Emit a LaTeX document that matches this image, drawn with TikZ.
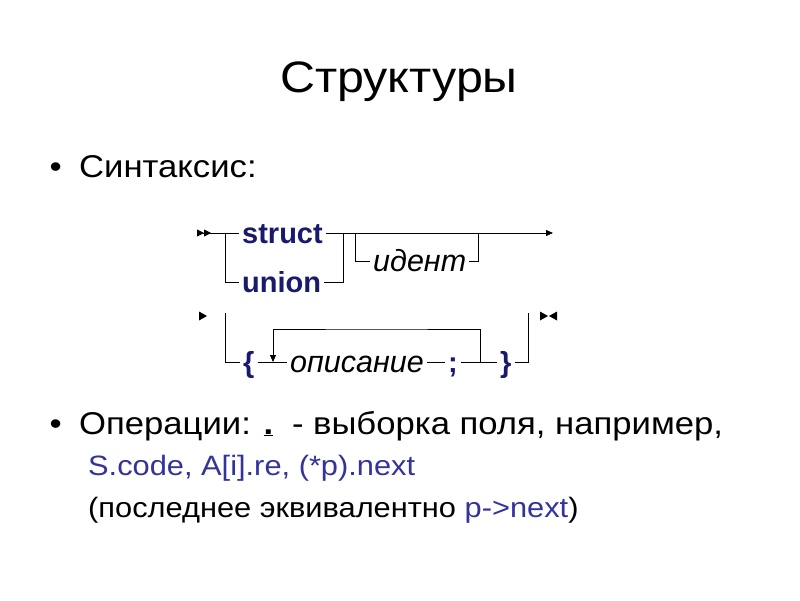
\documentclass[tikz,border=0pt]{standalone}
\usepackage{fontspec}
\setmainfont{Liberation Sans}
\newfontfamily\slidefont{Liberation Sans}[FakeStretch=1.1]
\usepackage{tikz}
\usetikzlibrary{arrows.meta}
\usetikzlibrary{positioning}
\definecolor{navy}{RGB}{25,25,110}
\definecolor{codeblue}{RGB}{51,51,153}

\begin{document}
\begin{tikzpicture}[x=1pt,y=-1pt]
\tikzstyle{title}=[inner sep=0pt,font=\slidefont\fontsize{44}{50}\selectfont]
\tikzstyle{item}=[inner sep=0pt,anchor=base west,font=\slidefont\fontsize{31.5}{38}\selectfont]
\tikzstyle{subitem}=[inner sep=0pt,anchor=base west,font=\slidefont\fontsize{28}{34}\selectfont]
\tikzstyle{keyword}=[inner xsep=3pt,inner ysep=0pt,text height=21pt,text depth=0pt,
text=navy,font=\fontsize{29}{34}\selectfont\bfseries]
\tikzstyle{nonterm}=[inner xsep=3pt,inner ysep=0pt,text height=21pt,text depth=0pt,
font=\fontsize{30.5}{34}\selectfont\itshape]
\tikzstyle{rail}=[line width=0.8pt]
\useasboundingbox (0,0) rectangle (800,600);
\fill[white] (0,0) rectangle (800,600);
% heading and text
\node[title,anchor=base] (heading) at (399,92) {Структуры};
\node[item] (syntax) at (79,177) {Синтаксис:};
\node[item,anchor=base east] (bullet1) at (62,177) {•};
\node[item] (ops) at (79,434) {Операции: \underline{\textbf{.}}\hspace{9pt} - выборка поля, например,};
\node[item,anchor=base east] (bullet2) at (62,434) {•};
\node[subitem,text=codeblue] (examples) at (88,475) {S.code, A[i].re, (*p).next};
\node[subitem] (remark) at (88,517) {(последнее эквивалентно \textcolor{codeblue}{p->next})};
% first row of the diagram
\coordinate (begin) at (197,233);
\coordinate (fork1) at (225,233);
\coordinate (join1) at (343,233);
\coordinate (fork2) at (355,233);
\coordinate (join2) at (478,233);
\coordinate (finish) at (553,233);
\node[keyword,anchor=west] (struct) at (239,233) {struct};
\node[keyword,anchor=west] (union) at (239,282) {union};
\node[nonterm,anchor=west] (ident) at (370,261) {идент};
\draw[rail,{Triangle[reversed,length=7pt,width=7pt]Triangle[reversed,length=7pt,width=7pt]}-] (begin) -- (struct);
\draw[rail] (fork1) |- (union);
\draw[rail] (struct) -- (join1);
\draw[rail] (union) -| (join1);
\draw[rail,-{Triangle[length=7pt,width=6pt]}] (join1) -- (finish);
\draw[rail] (fork2) |- (ident);
\draw[rail] (ident) -| (join2);
% second row of the diagram
\coordinate (cont) at (199,316);
\coordinate (open) at (225,313);
\coordinate (close) at (528,313);
\coordinate (stop) at (540,316);
\node[keyword,anchor=west] (lbrace) at (240,362) {\{};
\node[nonterm,anchor=west] (decl) at (287,362) {описание};
\node[keyword,anchor=west] (semi) at (445,362) {;};
\node[keyword,anchor=west] (rbrace) at (497,362) {\}};
\coordinate (loopin) at (273,362);
\coordinate (loopout) at (480,362);
\coordinate (looptop) at (376,329);
\fill (cont) -- ++(0,-4.5) -- ++(8,4.5) -- ++(-8,4.5) -- cycle;
\fill (stop) -- ++(0,-4.5) -- ++(8,4.5) -- ++(-8,4.5) -- cycle;
\fill ([xshift=17pt]stop) -- ++(0,-4.5) -- ++(-8,4.5) -- ++(8,4.5) -- cycle;
\draw[rail] (open) |- (lbrace);
\draw[rail] (lbrace) -- (decl);
\draw[rail] (decl) -- (semi);
\draw[rail] (semi) -- (rbrace);
\draw[rail] (rbrace) -| (close);
\draw[rail,-{Triangle[length=7pt,width=6pt]}] (loopout) |- (looptop) -| (loopin);
\end{tikzpicture}
\end{document}
